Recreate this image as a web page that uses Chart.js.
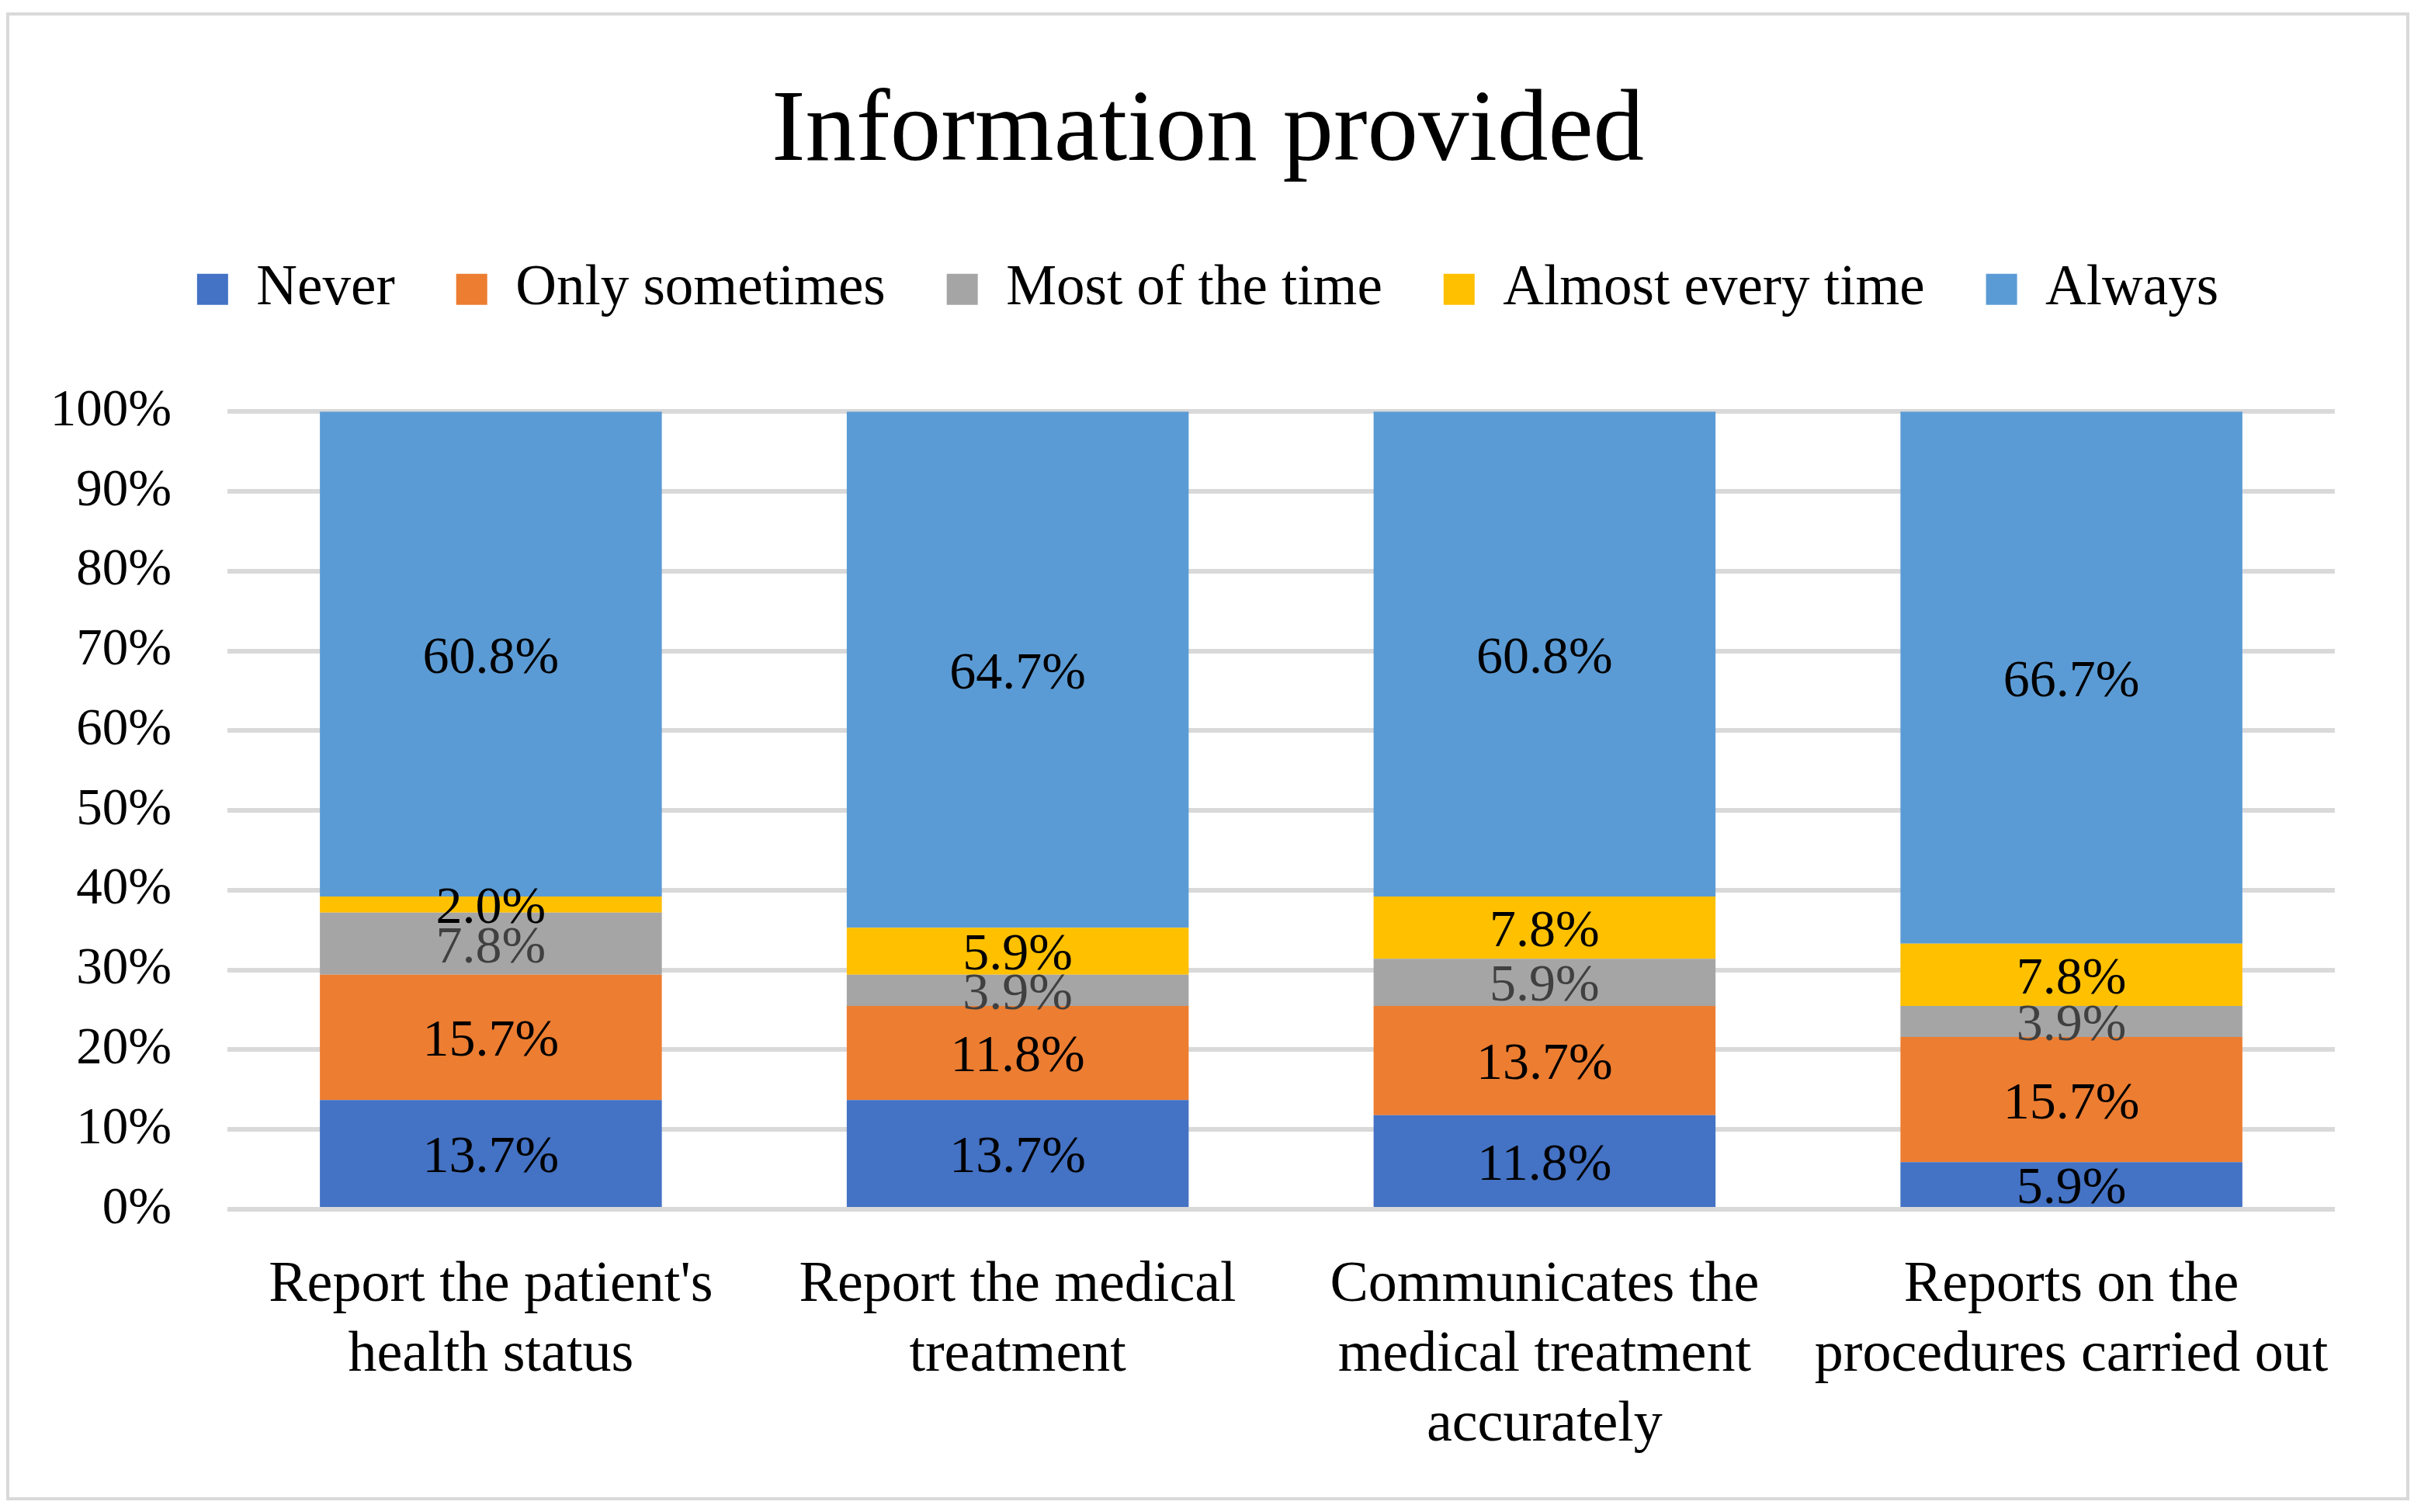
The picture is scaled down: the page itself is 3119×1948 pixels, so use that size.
<!DOCTYPE html>
<html lang="en">
<head>
  <meta charset="UTF-8">
  <title>Information provided</title>
  <script src="https://cdn.jsdelivr.net/npm/chart.js"></script>
  <style>
    html, body {
      margin: 0;
      background: #ffffff;
    }
    .frame {
      position: absolute;
      left: 8px;
      top: 16px;
      width: 3096px;
      height: 1917px;
      border: 4px solid #d9d9d9;
      box-sizing: border-box;
    }
  </style>
</head>
<body>
  <div class="frame">
    <canvas id="infoChart"></canvas>
  </div>

  <script>
    // data (percent of answers)
    const categories = [
      ["Report the patient's", "health status"],
      ["Report the medical", "treatment"],
      ["Communicates the", "medical treatment", "accurately"],
      ["Reports on the", "procedures carried out"]
    ];
    const seriesNames = ["Never", "Only sometimes", "Most of the time", "Almost every time", "Always"];
    const never = [13.7, 13.7, 11.8, 5.9];
    const onlySometimes = [15.7, 11.8, 13.7, 15.7];
    const mostOfTheTime = [7.8, 3.9, 5.9, 3.9];
    const almostEveryTime = [2.0, 5.9, 7.8, 7.8];
    const always = [60.8, 64.7, 60.8, 66.7];
    const yTicks = [0, 10, 20, 30, 40, 50, 60, 70, 80, 90, 100];

    const colors = ["#4472c4", "#ed7d31", "#a5a5a5", "#ffc000", "#5b9bd5"];
    const labelColors = ["#000000", "#000000", "#404040", "#000000", "#000000"];
    const serif = '"Liberation Serif", "Times New Roman", serif';

    // values written in the middle of every segment
    const segmentLabels = {
      id: 'segmentLabels',
      afterDatasetsDraw(chart) {
        const ctx = chart.ctx;
        ctx.save();
        ctx.font = '68px ' + serif;
        ctx.textAlign = 'center';
        ctx.textBaseline = 'middle';
        chart.data.datasets.forEach((ds, i) => {
          const meta = chart.getDatasetMeta(i);
          meta.data.forEach((bar, j) => {
            ctx.fillStyle = labelColors[i];
            ctx.fillText(ds.data[j].toFixed(1) + '%', bar.x, (bar.y + bar.base) / 2 + 6);
          });
        });
        ctx.restore();
      }
    };

    // extra room between legend and plot
    const legendGap = {
      id: 'legendGap',
      beforeInit(chart) {
        const fit = chart.legend.fit;
        chart.legend.fit = function () {
          fit.call(this);
          this.height += 111;
        };
      }
    };

    const values = [never, onlySometimes, mostOfTheTime, almostEveryTime, always];
    const datasets = seriesNames.map((name, i) => ({
      label: name,
      data: values[i],
      backgroundColor: colors[i],
      borderWidth: 0,
      barPercentage: 1,
      categoryPercentage: 0.649
    }));

    new Chart(document.getElementById('infoChart'), {
      type: 'bar',
      data: { labels: categories, datasets: datasets },
      plugins: [segmentLabels, legendGap],
      options: {
        responsive: true,
        maintainAspectRatio: false,
        animation: false,
        layout: { padding: 0 },
        plugins: {
          title: {
            display: true,
            text: 'Information provided',
            color: '#000000',
            font: { family: serif, size: 131, weight: 'normal', lineHeight: 1.2 },
            padding: { top: 73, bottom: 7 }
          },
          legend: {
            position: 'top',
            labels: {
              color: '#000000',
              font: { family: serif, size: 73 },
              boxWidth: 40,
              boxHeight: 40,
              padding: 79
            }
          },
          tooltip: { enabled: false }
        },
        scales: {
          x: {
            stacked: true,
            grid: { display: false, drawTicks: false },
            border: { display: false },
            ticks: {
              color: '#000000',
              padding: 53,
              maxRotation: 0,
              autoSkip: false,
              font: { family: serif, size: 74, lineHeight: 1.22 }
            },
            afterFit(scale) { scale.height = 371; }
          },
          y: {
            stacked: true,
            min: 0,
            max: 100,
            afterBuildTicks(scale) { scale.ticks = yTicks.map(v => ({ value: v })); },
            grid: { color: '#d9d9d9', lineWidth: 6, drawTicks: false },
            border: { display: false },
            ticks: {
              color: '#000000',
              padding: 72,
              font: { family: serif, size: 67 },
              callback: v => v + '%'
            },
            afterFit(scale) { scale.width = 281; }
          },
          // empty strip on the right so the plot ends where the original does
          yRight: {
            position: 'right',
            min: 0,
            max: 100,
            grid: { display: false, drawTicks: false },
            border: { display: false },
            ticks: { display: false },
            afterFit(scale) { scale.width = 92; }
          }
        }
      }
    });
  </script>
</body>
</html>
